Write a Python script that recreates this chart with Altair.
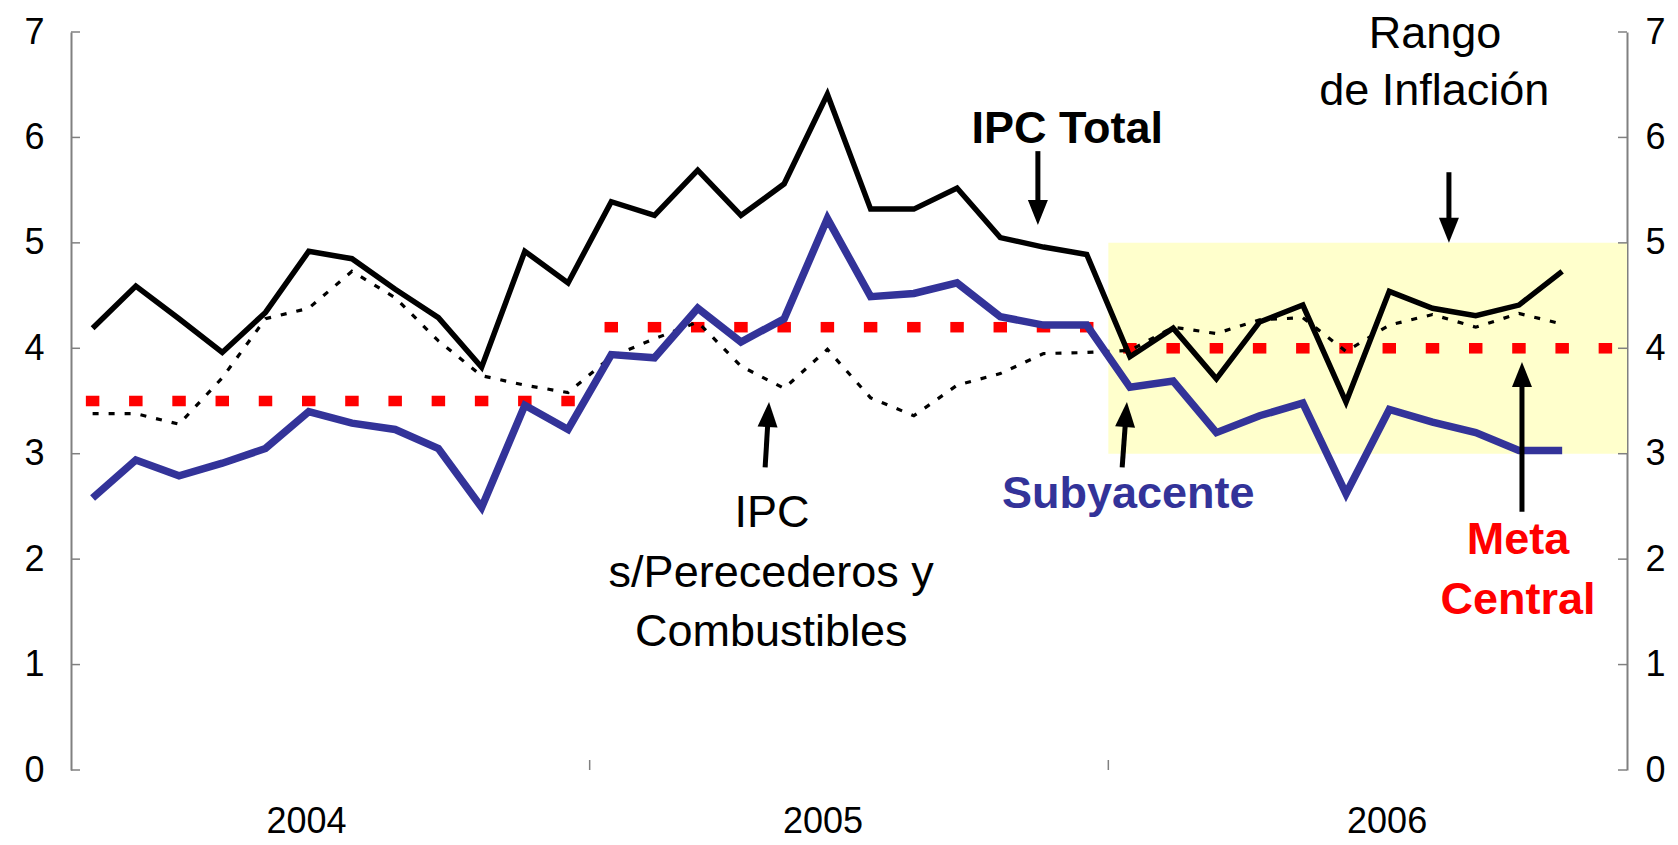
import math
import altair as alt
import pandas as pd

# ---------------- data ----------------
years = ["2004", "2005", "2006"]
year_label_x = [5.45, 17.4, 30.45]
months_per_year = 12

ipc_total = [4.19, 4.59, 4.28, 3.96, 4.34, 4.92, 4.85, 4.56, 4.29, 3.82, 4.92, 4.62,
             5.39, 5.26, 5.69, 5.26, 5.56, 6.41, 5.32, 5.32, 5.52, 5.05, 4.96, 4.89,
             3.92, 4.19, 3.71, 4.25, 4.41, 3.49, 4.54, 4.38, 4.31, 4.41, 4.73]
subyacente = [2.58, 2.94, 2.79, 2.91, 3.05, 3.40, 3.29, 3.23, 3.05, 2.49, 3.46, 3.23,
              3.94, 3.91, 4.38, 4.06, 4.28, 5.23, 4.49, 4.52, 4.62, 4.30, 4.22, 4.22,
              3.63, 3.69, 3.20, 3.36, 3.48, 2.62, 3.42, 3.30, 3.20, 3.03, 3.03]
ipc_sin_perecederos = [3.38, 3.38, 3.28, 3.72, 4.28, 4.38, 4.73, 4.48, 4.07, 3.74, 3.65, 3.58,
                       3.92, 4.09, 4.25, 3.83, 3.62, 3.99, 3.53, 3.36, 3.65, 3.76, 3.95, 3.96,
                       3.98, 4.20, 4.14, 4.27, 4.29, 3.97, 4.22, 4.32, 4.20, 4.33, 4.23]
meta_central_por_anio = [3.5, 4.2, 4.0]
rango_anio = "2006"
rango_inferior = 3
rango_superior = 5
y_ticks = [0, 1, 2, 3, 4, 5, 6, 7]

# annotations (position in chart units: month slot, percent)
ann_text = ["IPC Total", "Rango", "de Inflación", "IPC", "s/Perecederos y",
            "Combustibles", "Subyacente", "Meta", "Central"]
ann_x = [23.05, 31.56, 31.54, 16.22, 16.20, 16.20, 24.46, 33.48, 33.48]
ann_y = [6.08, 6.98, 6.44, 2.44, 1.87, 1.31, 2.62, 2.18, 1.61]
ann_color = ["#000000", "#000000", "#000000", "#000000", "#000000", "#000000",
             "#333399", "#FF0000", "#FF0000"]
ann_bold = [True, False, False, False, False, False, True, True, True]

arrow_tail_x = [22.37, 31.88, 16.06, 24.32, 33.57]
arrow_tail_y = [5.87, 5.67, 2.87, 2.87, 2.45]
arrow_tip_x = [22.37, 31.88, 16.15, 24.43, 33.57]
arrow_tip_y = [5.17, 5.00, 3.49, 3.49, 3.87]

# ---------------- layout ----------------
W, H = 1556, 738
n_slots = len(years) * months_per_year
PX_X = W / n_slots
PX_Y = H / (y_ticks[-1] - y_ticks[0])
FONT = "Liberation Sans"

xs = alt.Scale(domain=[0, n_slots], nice=False, zero=False)
ys = alt.Scale(domain=[y_ticks[0], y_ticks[-1]], nice=False, zero=False)

series_df = pd.DataFrame({
    "x": [i + 0.5 for i in range(len(ipc_total))],
    "total": ipc_total,
    "sub": subyacente,
    "sin": ipc_sin_perecederos,
})
meta_df = pd.DataFrame({
    "x": [i + 0.5 for i in range(n_slots)],
    "meta": [meta_central_por_anio[i // months_per_year] for i in range(n_slots)],
})
k = years.index(rango_anio)
rango_df = pd.DataFrame({"x": [k * months_per_year], "x2": [(k + 1) * months_per_year],
                         "y": [rango_inferior], "y2": [rango_superior]})

x_axis = alt.Axis(values=[0], labels=False, title=None)
left_axis = alt.Axis(orient="left", values=y_ticks, title=None, labelPadding=27, format="d")
right_axis = alt.Axis(orient="right", values=y_ticks, title=None, labelPadding=18, format="d")

rect = alt.Chart(rango_df).mark_rect(color="#FFFFCC").encode(
    x=alt.X("x:Q", scale=xs, axis=None), x2="x2",
    y=alt.Y("y:Q", scale=ys, axis=right_axis), y2="y2")

RECT_PATH = "M-1,-0.78L1,-0.78L1,0.78L-1,0.78Z"
meta = alt.Chart(meta_df).mark_point(shape=RECT_PATH, filled=True, color="#FF0000",
                                     size=182, opacity=1, strokeWidth=0).encode(
    x=alt.X("x:Q", scale=xs, axis=None),
    y=alt.Y("meta:Q", scale=ys, axis=None))

line_sin = alt.Chart(series_df).mark_line(color="black", strokeWidth=3.2,
                                          strokeDash=[6, 10]).encode(
    x=alt.X("x:Q", scale=xs, axis=x_axis),
    y=alt.Y("sin:Q", scale=ys, axis=left_axis))

line_sub = alt.Chart(series_df).mark_line(color="#333399", strokeWidth=7.5,
                                          strokeJoin="miter").encode(
    x=alt.X("x:Q", scale=xs, axis=None),
    y=alt.Y("sub:Q", scale=ys, axis=None))

line_total = alt.Chart(series_df).mark_line(color="black", strokeWidth=5.5,
                                            strokeJoin="miter").encode(
    x=alt.X("x:Q", scale=xs, axis=None),
    y=alt.Y("total:Q", scale=ys, axis=None))

ytick_df = pd.DataFrame({"y": y_ticks})
left_ticks = alt.Chart(ytick_df).mark_rule(color="#808080", strokeWidth=1.5).encode(
    x=alt.value(0), x2=alt.value(9), y=alt.Y("y:Q", scale=ys, axis=None))
right_ticks = alt.Chart(ytick_df).mark_rule(color="#808080", strokeWidth=1.5).encode(
    x=alt.value(W - 9), x2=alt.value(W), y=alt.Y("y:Q", scale=ys, axis=None))
xtick_df = pd.DataFrame({"x": [months_per_year * i for i in range(1, len(years))]})
x_ticks = alt.Chart(xtick_df).mark_rule(color="#808080", strokeWidth=1.5).encode(
    x=alt.X("x:Q", scale=xs, axis=None), y=alt.value(H), y2=alt.value(H - 10))

# year labels under the axis
year_df = pd.DataFrame({"x": year_label_x, "text": years})
year_text = alt.Chart(year_df).mark_text(font=FONT, fontSize=36, color="black",
                                         align="center", baseline="middle").encode(
    x=alt.X("x:Q", scale=xs, axis=None), y=alt.value(H + 52), text="text:N")

# arrows
HEAD_LEN = 25
rows = []
for tx, ty, hx, hy in zip(arrow_tail_x, arrow_tail_y, arrow_tip_x, arrow_tip_y):
    dxp = (hx - tx) * PX_X
    dyp = (hy - ty) * PX_Y
    L = math.hypot(dxp, dyp)
    f = (HEAD_LEN - 3) / L
    ang = math.degrees(math.atan2(dxp, dyp)) % 360
    rows.append({"tx": tx, "ty": ty, "hx": hx, "hy": hy,
                 "ex": hx - f * (hx - tx), "ey": hy - f * (hy - ty), "angle": ang})
arrow_df = pd.DataFrame(rows)

shafts = alt.Chart(arrow_df).mark_rule(color="black", strokeWidth=5, strokeCap="butt").encode(
    x=alt.X("tx:Q", scale=xs, axis=None), y=alt.Y("ty:Q", scale=ys, axis=None),
    x2="ex:Q", y2="ey:Q")
heads = alt.Chart(arrow_df).mark_point(shape="M0,0L0.8,2L-0.8,2Z", filled=True, color="black",
                                       size=(HEAD_LEN / 2) ** 2 * 4, opacity=1,
                                       strokeWidth=0).encode(
    x=alt.X("hx:Q", scale=xs, axis=None), y=alt.Y("hy:Q", scale=ys, axis=None),
    angle=alt.Angle("angle:Q", scale=None))

ann_df = pd.DataFrame({"text": ann_text, "x": ann_x, "y": ann_y,
                       "color": ann_color, "bold": ann_bold})
text_regular = alt.Chart(ann_df[~ann_df["bold"]]).mark_text(
    font=FONT, fontSize=45, align="center", baseline="middle").encode(
    x=alt.X("x:Q", scale=xs, axis=None), y=alt.Y("y:Q", scale=ys, axis=None),
    text="text:N", color=alt.Color("color:N", scale=None))
text_bold = alt.Chart(ann_df[ann_df["bold"]]).mark_text(
    font=FONT, fontSize=45, fontWeight="bold", align="center", baseline="middle").encode(
    x=alt.X("x:Q", scale=xs, axis=None), y=alt.Y("y:Q", scale=ys, axis=None),
    text="text:N", color=alt.Color("color:N", scale=None))

chart = alt.layer(
    rect, meta, line_sin, line_sub, line_total,
    left_ticks, right_ticks, x_ticks, year_text,
    shafts, heads, text_regular, text_bold,
).resolve_axis(y="independent").properties(
    width=W, height=H,
    padding={"left": 63, "top": 24, "right": 43, "bottom": 74},
    autosize=alt.AutoSizeParams(type="none"),
).configure_view(stroke=None).configure_axis(
    labelFont=FONT, labelFontSize=36, labelColor="black",
    domainColor="#808080", domainWidth=2, grid=False, ticks=False, tickSize=0,
)

chart.save("out.html", embed_options={"renderer": "svg", "actions": False})
